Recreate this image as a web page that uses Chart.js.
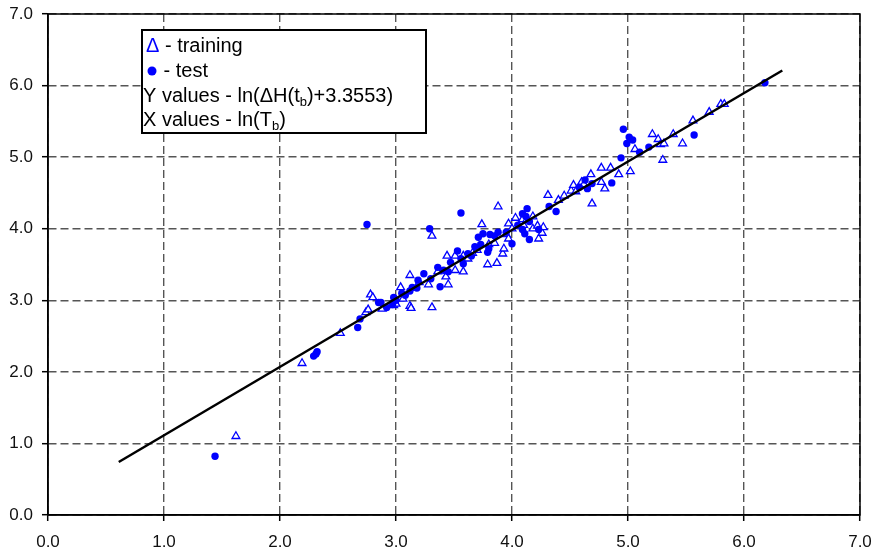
<!DOCTYPE html>
<html>
<head>
<meta charset="utf-8">
<script src="https://cdn.jsdelivr.net/npm/chart.js@4.4.6/dist/chart.umd.min.js"></script>
<style>
  html, body { margin: 0; padding: 0; background: #fff; }
  #wrap { position: relative; width: 879px; height: 554px; }
</style>
</head>
<body>
<div id="wrap"><canvas id="c" width="879" height="554"></canvas></div>
<script>
// training set (triangles)
const trainX = [1.62, 2.19, 2.52, 2.74, 2.76, 2.78, 2.80, 2.88, 2.98, 3.00, 3.04, 3.06, 3.12, 3.13, 3.12, 3.20,
  3.28, 3.31, 3.31, 3.36, 3.43, 3.44, 3.45, 3.51, 3.51, 3.58, 3.58, 3.62, 3.66, 3.70, 3.74, 3.79, 3.80, 3.85,
  3.87, 3.88, 3.92, 3.93, 3.95, 3.97, 3.97, 4.00, 4.03, 4.09, 4.10, 4.18, 4.18, 4.22, 4.23, 4.26, 4.27, 4.31,
  4.40, 4.45, 4.51, 4.53, 4.55, 4.60, 4.62, 4.68, 4.69, 4.77, 4.77, 4.80, 4.85, 4.92, 5.02, 5.06, 5.21, 5.26,
  5.28, 5.30, 5.31, 5.39, 5.47, 5.56, 5.70, 5.80, 5.83]
const trainY = [1.10, 2.12, 2.54, 2.83, 2.87, 3.08, 3.04, 2.88, 2.93, 2.95, 3.18, 3.02, 2.92, 2.89, 3.35, 3.25,
  3.22, 2.90, 3.90, 3.40, 3.33, 3.62, 3.22, 3.62, 3.42, 3.62, 3.40, 3.58, 3.66, 3.70, 4.06, 3.50, 3.78, 3.80,
  3.52, 4.31, 3.65, 3.72, 3.92, 3.86, 4.07, 4.00, 4.15, 4.13, 4.05, 4.17, 4.00, 4.04, 3.86, 3.94, 4.02, 4.47,
  4.40, 4.46, 4.53, 4.61, 4.52, 4.65, 4.62, 4.76, 4.35, 4.85, 4.65, 4.56, 4.85, 4.76, 4.80, 5.11, 5.32, 5.25,
  5.18, 4.96, 5.19, 5.32, 5.19, 5.51, 5.63, 5.74, 5.74]

// test set (filled dots)
const testX = [1.44, 2.29, 2.31, 2.32, 2.67, 2.69, 2.75, 2.85, 2.87, 2.92, 2.97, 2.98, 3.00, 3.05, 3.08, 3.12,
  3.14, 3.18, 3.19, 3.24, 3.29, 3.30, 3.36, 3.38, 3.41, 3.45, 3.47, 3.53, 3.56, 3.56, 3.58, 3.62, 3.65, 3.68,
  3.71, 3.73, 3.75, 3.79, 3.80, 3.81, 3.85, 3.88, 3.95, 4.00, 4.05, 4.09, 4.09, 4.11, 4.12, 4.13, 4.15, 4.15,
  4.23, 4.32, 4.38, 4.58, 4.63, 4.65, 4.69, 4.86, 4.94, 4.96, 4.99, 5.01, 5.04, 5.10, 5.18, 5.57, 6.18]
const testY = [0.82, 2.22, 2.25, 2.28, 2.62, 2.74, 4.06, 2.97, 2.97, 2.90, 2.94, 3.04, 3.00, 3.10, 3.07, 3.13,
  3.18, 3.17, 3.28, 3.37, 4.00, 3.30, 3.46, 3.19, 3.42, 3.40, 3.53, 3.69, 3.58, 4.22, 3.51, 3.65, 3.62, 3.75,
  3.88, 3.78, 3.93, 3.67, 3.72, 3.92, 3.90, 3.95, 3.95, 3.79, 4.05, 4.21, 3.99, 3.93, 4.17, 4.28, 3.85, 4.10,
  3.99, 4.31, 4.24, 4.58, 4.68, 4.56, 4.63, 4.64, 4.99, 5.39, 5.19, 5.28, 5.24, 5.07, 5.14, 5.31, 6.04]

// regression line end points
const fitX = [0.61, 6.33]
const fitY = [0.74, 6.21]

const tickValues = [0, 1, 2, 3, 4, 5, 6, 7]

const toPts = (xs, ys) => xs.map((x, i) => ({ x, y: ys[i] }))

const FONT = '"Liberation Sans", Arial, sans-serif'
const BLUE = '#0000ff'

// black frame round the plot + legend box
const framePlugin = {
  id: 'frame',
  afterDatasetsDraw (chart) {
    const { ctx, chartArea: a } = chart
    ctx.save()
    ctx.strokeStyle = '#000'
    ctx.lineWidth = 1.5
    ctx.strokeRect(a.left, a.top, a.right - a.left, a.bottom - a.top)
    ctx.restore()
  },
  afterDraw (chart) {
    const ctx = chart.ctx
    ctx.save()
    ctx.fillStyle = '#fff'
    ctx.fillRect(142, 30, 284, 103)
    ctx.strokeStyle = '#000'
    ctx.lineWidth = 2
    ctx.strokeRect(142, 30, 284, 103)

    ctx.textBaseline = 'alphabetic'
    ctx.textAlign = 'left'
    const big = '20px ' + FONT
    const small = '13px ' + FONT
    // line 1
    ctx.font = big
    ctx.fillStyle = BLUE
    ctx.fillText('Δ', 146, 52)
    ctx.fillStyle = '#000'
    ctx.fillText(' - training', 146 + ctx.measureText('Δ').width, 52)
    // line 2
    ctx.fillStyle = BLUE
    ctx.beginPath()
    ctx.arc(152, 71, 4.5, 0, Math.PI * 2)
    ctx.fill()
    ctx.fillStyle = '#000'
    ctx.fillText(' - test', 158, 77)
    // line 3 / 4 with subscript b
    const subLine = (pre, post, y) => {
      let x = 143
      ctx.font = big
      ctx.fillText(pre, x, y)
      x += ctx.measureText(pre).width
      ctx.font = small
      ctx.fillText('b', x, y + 4)
      x += ctx.measureText('b').width
      ctx.font = big
      ctx.fillText(post, x, y)
    }
    subLine('Y values - ln(ΔH(t', ')+3.3553)', 102)
    subLine('X values - ln(T', ')', 126)
    ctx.restore()
  }
}

const axis = (pos) => ({
  type: 'linear',
  position: pos,
  min: 0,
  max: 7,
  afterBuildTicks: s => { s.ticks = tickValues.map(v => ({ value: v })) },
  ticks: {
    color: '#111',
    font: { family: FONT, size: 17 },
    padding: pos === 'bottom' ? 11 : 9,
    callback: v => v.toFixed(1)
  },
  grid: { color: '#555', lineWidth: 1.4, tickLength: 6, tickColor: '#000', tickWidth: 1.5 },
  border: { display: true, color: '#000', width: 1.5, dash: [8, 4] },
  afterFit: s => {
    if (pos === 'bottom') s.height = 39
    else s.width = 48
    // let the layout padding alone decide the plot edges
    s.paddingTop = 0
    s.paddingBottom = 0
    s.paddingLeft = 0
    s.paddingRight = 0
  }
})

new Chart(document.getElementById('c'), {
  type: 'scatter',
  data: {
    datasets: [
      {
        label: 'fit',
        data: toPts(fitX, fitY),
        showLine: true,
        borderColor: '#000',
        borderWidth: 2.5,
        pointRadius: 0,
        order: 0
      },
      {
        label: 'training',
        data: toPts(trainX, trainY),
        pointStyle: 'triangle',
        pointRadius: 4.5,
        borderColor: BLUE,
        backgroundColor: '#fff',
        pointBorderWidth: 1.3,
        order: 2
      },
      {
        label: 'test',
        data: toPts(testX, testY),
        pointStyle: 'circle',
        pointRadius: 3.7,
        borderColor: BLUE,
        backgroundColor: BLUE,
        pointBorderWidth: 0,
        order: 1
      }
    ]
  },
  options: {
    responsive: false,
    animation: false,
    layout: { padding: { top: 14, right: 19, left: 0, bottom: 0 } },
    plugins: { legend: { display: false }, tooltip: { enabled: false } },
    scales: { x: axis('bottom'), y: axis('left') }
  },
  plugins: [framePlugin]
})
</script>
</body>
</html>
